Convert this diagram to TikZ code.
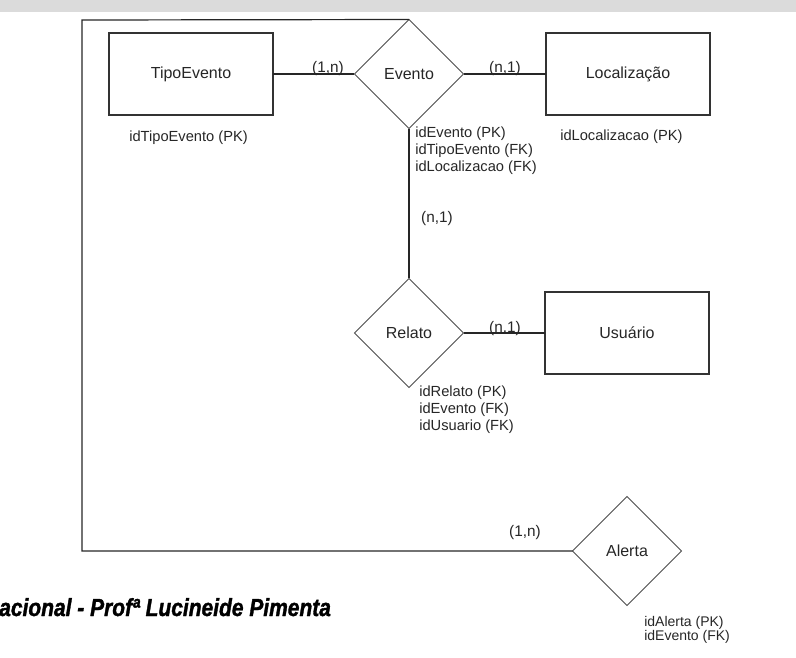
\documentclass[tikz,border=0pt]{standalone}
\usepackage{fontspec}
\setmainfont{Liberation Sans}
\newfontfamily\rodapefont[BoldItalicFeatures={FakeBold=1.6}]{Liberation Sans}
\usetikzlibrary{shapes.geometric}

\begin{document}
\begin{tikzpicture}
        [x=0.75pt,y=-0.75pt,every node/.style={text=black!85},
         entity/.style={draw=black!80,line width=0.9pt,rectangle,minimum width=123pt,minimum height=61.5pt,inner sep=0,outer sep=0,font=\fontsize{12}{14}\selectfont},
         relation/.style={draw=black!70,line width=0.7pt,diamond,minimum width=81.75pt,minimum height=81.75pt,inner sep=0,outer sep=0,font=\fontsize{12}{14}\selectfont},
         attr/.style={anchor=west,inner sep=0,align=left,font=\fontsize{11}{12.75}\selectfont},
         card/.style={inner sep=0,font=\fontsize{11.5}{13}\selectfont},
         link/.style={line width=0.9pt,black!85}]

        \useasboundingbox (0,0) rectangle (796,657);
        \fill[black!14] (0,0) rectangle (796,12);

        \node[entity] (tipo) at (191,74) {TipoEvento};
        \node[relation] (evento) at (409,74) {Evento};
        \node[entity] (local) at (628,74) {Localização};
        \node[relation] (relato) at (409,333) {Relato};
        \node[entity] (usuario) at (627,333) {Usuário};
        \node[relation] (alerta) at (627,551) {Alerta};
        \coordinate (c1) at (82,20);
        \coordinate (c2) at (82,551);

        \node[attr] (aTipo) at (129,138) {idTipoEvento (PK)};
        \node[attr] (aEvento) at (415,151) {idEvento (PK)\\idTipoEvento (FK)\\idLocalizacao (FK)};
        \node[attr] (aLocal) at (560,137) {idLocalizacao (PK)};
        \node[attr] (aRelato) at (419,410) {idRelato (PK)\\idEvento (FK)\\idUsuario (FK)};
        \node[attr,font=\fontsize{10.5}{10.5}\selectfont] (aAlerta) at (644,630) {idAlerta (PK)\\idEvento (FK)};

        \node[card] (k1) at (328,69) {(1,n)};
        \node[card] (k2) at (505,69) {(n,1)};
        \node[card] (k3) at (437,219) {(n,1)};
        \node[card] (k4) at (505,329) {(n,1)};
        \node[card] (k5) at (525,533) {(1,n)};

        \node[anchor=base west,inner sep=0,text=black,font=\rodapefont\fontsize{18.5}{18.5}\selectfont\bfseries\itshape] (rodape) at (-1,616) {\scalebox{0.85}[1]{acional - Profª Lucineide Pimenta}};

        \draw[link] (tipo) -- (evento);
        \draw[link] (evento) -- (local);
        \draw[link] (evento) -- (relato);
        \draw[link] (relato) -- (usuario);
        \draw[link] (evento.north) -- (c1) -- (c2) -- (alerta.west);
      \end{tikzpicture}
\end{document}
